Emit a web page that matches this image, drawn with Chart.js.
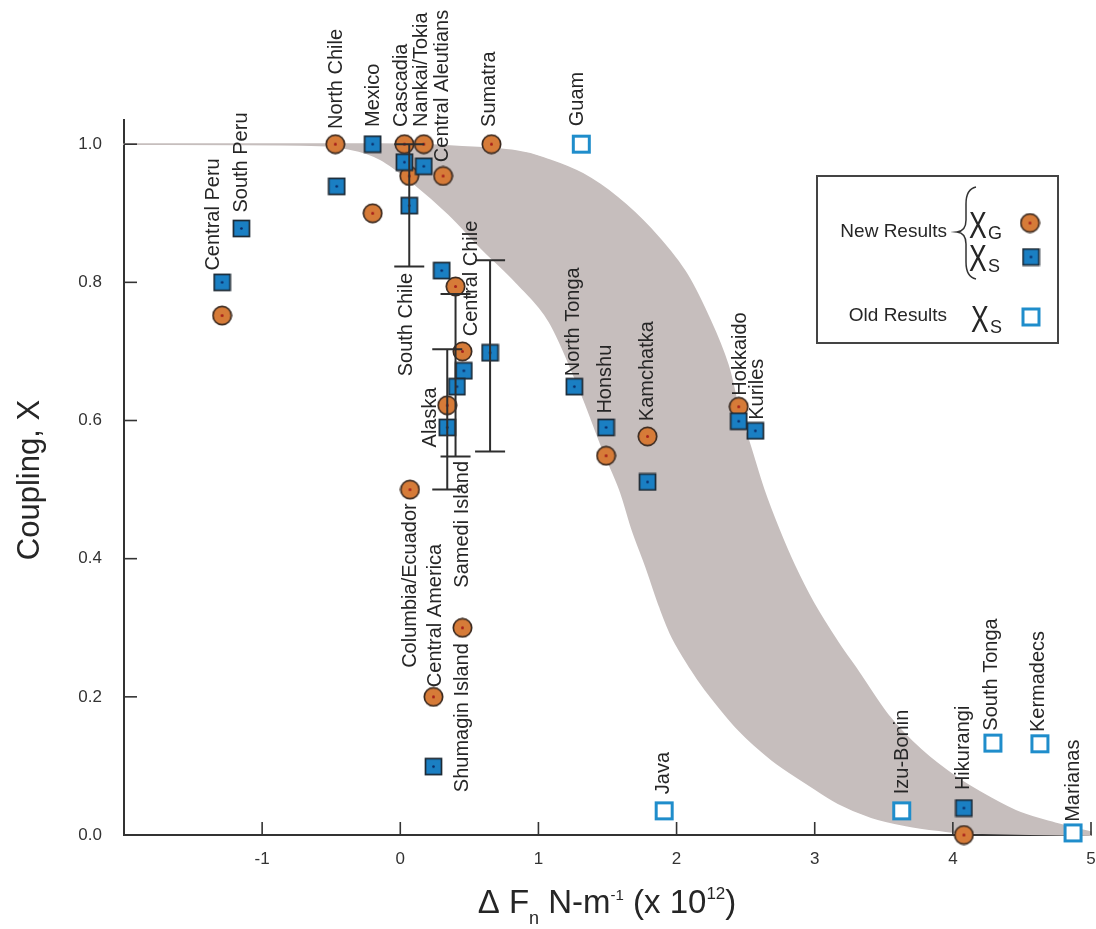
<!DOCTYPE html>
<html><head><meta charset="utf-8">
<script src="https://cdn.jsdelivr.net/npm/chart.js@4.4.1/dist/chart.umd.min.js"></script>
<style>html,body{margin:0;padding:0;background:#fff;}#wrap{width:1096px;height:929px;}</style>
</head><body><div id="wrap"><canvas id="c" width="1096" height="929"></canvas></div>
<script>
// ---------- data ----------
// New results, coupling from geodesy (X_G): orange circles
const gNames = ["Central Peru","North Chile","Mexico","Cascadia","Nankai/Tokia","South Chile","Central Aleutians","Sumatra","Central Chile","Samedi Island","Alaska","Columbia/Ecuador","Central America","Shumagin Island","Honshu","Kamchatka","Hokkaido","Hikurangi"];
const gX = [-1.29,-0.47,-0.20,0.03,0.17,0.065,0.31,0.66,0.40,0.45,0.34,0.07,0.24,0.45,1.49,1.79,2.45,4.08];
const gY = [0.752,1.0,0.90,1.0,1.0,0.954,0.954,1.0,0.794,0.70,0.622,0.50,0.20,0.30,0.549,0.577,0.62,0.0];
// New results, coupling from seismicity (X_S): filled blue squares
const sNames = ["South Peru","Central Peru","North Chile","Mexico","Cascadia","Nankai/Tokia","South Chile","Central Aleutians","Samedi Island","Central Chile b","Alaska","Central Chile","Shumagin Island","North Tonga","Honshu","Kamchatka","Hokkaido","Kuriles","Hikurangi"];
const sX = [-1.15,-1.29,-0.46,-0.20,0.03,0.17,0.065,0.30,0.46,0.41,0.34,0.65,0.24,1.26,1.49,1.79,2.45,2.57,4.08];
const sY = [0.878,0.80,0.939,1.0,0.974,0.968,0.911,0.817,0.672,0.649,0.59,0.698,0.099,0.649,0.59,0.511,0.599,0.585,0.039];
// Old results X_S: open squares
const oNames = ["Guam","Java","Izu-Bonin","South Tonga","Kermadecs","Marianas"];
const oX = [1.31,1.91,3.63,4.29,4.63,4.87];
const oY = [1.0,0.035,0.035,0.133,0.132,0.003];
// Error bars
const errX = [0.065,0.34,0.40,0.65];
const errLow = [0.823,0.50,0.548,0.555];
const errHigh = [1.0,0.703,0.783,0.832];
// Shaded band boundaries
const bandUpX = [-2.0,-0.14,0.36,0.84,1.08,1.32,1.57,1.81,2.06,2.24,2.37,2.45,2.54,2.63,2.74,2.85,2.99,3.17,3.32,3.54,3.77,4.02,4.26,4.49,4.74,5.0];
const bandUpY = [1.0,1.0,0.997,0.990,0.977,0.957,0.923,0.878,0.816,0.746,0.681,0.616,0.558,0.50,0.442,0.391,0.336,0.278,0.235,0.171,0.123,0.084,0.055,0.032,0.017,0.004];
const bandLoX = [-2.0,-0.72,-0.36,-0.14,0.10,0.35,0.59,0.84,1.08,1.30,1.46,1.59,1.68,1.78,1.88,1.97,2.09,2.21,2.45,2.69,2.94,3.17,3.41,3.66,3.90,4.13,5.0];
const bandLoY = [1.0,0.999,0.993,0.978,0.943,0.899,0.849,0.80,0.743,0.645,0.562,0.50,0.442,0.388,0.330,0.286,0.245,0.210,0.152,0.109,0.075,0.046,0.026,0.014,0.007,0.003,0.0];
// Point labels (text start, in data units)
const labText = ["Central Peru","South Peru","North Chile","Mexico","Cascadia","Nankai/Tokia","Central Aleutians","Sumatra","Guam","South Chile","Central Chile","Alaska","Samedi Island","Columbia/Ecuador","Central America","Shumagin Island","North Tonga","Honshu","Kamchatka","Hokkaido","Kuriles","Java","Izu-Bonin","Hikurangi","South Tonga","Kermadecs","Marianas"];
const labX = [-1.349,-1.147,-0.462,-0.195,0.007,0.152,0.303,0.649,1.284,0.043,0.519,0.216,0.447,0.072,0.253,0.447,1.255,1.486,1.789,2.46,2.583,1.905,3.636,4.076,4.278,4.618,4.87];
const labY = [0.817,0.901,1.022,1.025,1.025,1.025,0.974,1.025,1.026,0.664,0.722,0.561,0.358,0.242,0.214,0.062,0.664,0.61,0.599,0.636,0.601,0.059,0.059,0.065,0.151,0.149,0.019];
// Axis ticks
const xTickVals = [-1,0,1,2,3,4,5];
const yTickVals = [0.2,0.4,0.6,0.8,1.0];

// ---------- marker images ----------
function mk(w,h,fn){const c=document.createElement('canvas');c.width=w;c.height=h;fn(c.getContext('2d'));return c;}
const circleImg = mk(21,21,ctx=>{ctx.beginPath();ctx.arc(10.5,10.5,9.2,0,Math.PI*2);ctx.fillStyle='#d67b38';ctx.fill();ctx.lineWidth=1.7;ctx.strokeStyle='#3b2a20';ctx.stroke();ctx.beginPath();ctx.arc(10.5,10.5,1.5,0,Math.PI*2);ctx.fillStyle='#a8201c';ctx.fill();});
const squareImg = mk(19,19,ctx=>{ctx.fillStyle='#1a7fc3';ctx.fillRect(1.5,1.5,16,16);ctx.lineWidth=1.7;ctx.strokeStyle='#1d2a35';ctx.strokeRect(1.5,1.5,16,16);ctx.beginPath();ctx.arc(9.5,9.5,1.3,0,Math.PI*2);ctx.fillStyle='#0b2a66';ctx.fill();});
const openImg = mk(21,21,ctx=>{ctx.fillStyle='#fff';ctx.fillRect(2,2,17,17);ctx.lineWidth=3;ctx.strokeStyle='#1f8dcb';ctx.strokeRect(2.5,2.5,16,16);});

const pts=(xs,ys)=>xs.map((x,i)=>({x:x,y:ys[i]}));

const FONT='"Liberation Sans", Arial, Helvetica, sans-serif';
const TXT='#262626';

// smooth path through pixel points (Catmull-Rom -> Bezier)
function smoothPath(ctx,p,start){
  if(start)ctx.moveTo(p[0][0],p[0][1]);else ctx.lineTo(p[0][0],p[0][1]);
  for(let i=0;i<p.length-1;i++){
    const p0=p[i-1]||p[i],p1=p[i],p2=p[i+1],p3=p[i+2]||p[i+1];
    const c1x=p1[0]+(p2[0]-p0[0])/6,c1y=p1[1]+(p2[1]-p0[1])/6;
    const c2x=p2[0]-(p3[0]-p1[0])/6,c2y=p2[1]-(p3[1]-p1[1])/6;
    ctx.bezierCurveTo(c1x,c1y,c2x,c2y,p2[0],p2[1]);
  }
}

const bandPlugin = {
  id:'band',
  beforeDatasetsDraw(chart){
    const {ctx,scales:{x,y}}=chart;
    const up=bandUpX.map((v,i)=>[x.getPixelForValue(v),y.getPixelForValue(bandUpY[i])]);
    const lo=bandLoX.map((v,i)=>[x.getPixelForValue(v),y.getPixelForValue(bandLoY[i])]).reverse();
    ctx.save();
    ctx.beginPath();
    smoothPath(ctx,up,true);
    smoothPath(ctx,lo,false);
    ctx.closePath();
    ctx.fillStyle='#c6bebd';ctx.fill();
    ctx.lineWidth=1.8;ctx.strokeStyle='#c6bebd';ctx.lineJoin='round';ctx.stroke();
    ctx.restore();
  }
};

const decoPlugin = {
  id:'deco',
  afterDatasetsDraw(chart){
    const {ctx,chartArea:a,scales:{x,y}}=chart;
    ctx.save();
    // inward ticks
    ctx.strokeStyle='#333';ctx.lineWidth=1.6;
    xTickVals.forEach(v=>{const px=x.getPixelForValue(v);ctx.beginPath();ctx.moveTo(px,a.bottom);ctx.lineTo(px,a.bottom-13);ctx.stroke();});
    yTickVals.forEach(v=>{const py=y.getPixelForValue(v);ctx.beginPath();ctx.moveTo(a.left,py);ctx.lineTo(a.left+13,py);ctx.stroke();});
    // error bars
    ctx.strokeStyle='#2e2e2e';ctx.lineWidth=2;
    errX.forEach((v,i)=>{
      const px=x.getPixelForValue(v),p1=y.getPixelForValue(errLow[i]),p2=y.getPixelForValue(errHigh[i]);
      ctx.beginPath();ctx.moveTo(px,p1);ctx.lineTo(px,p2);
      ctx.moveTo(px-15,p1);ctx.lineTo(px+15,p1);
      ctx.moveTo(px-15,p2);ctx.lineTo(px+15,p2);ctx.stroke();
    });
    // point labels
    ctx.fillStyle=TXT;ctx.font='20px '+FONT;ctx.textAlign='left';ctx.textBaseline='middle';
    labText.forEach((t,i)=>{
      ctx.save();ctx.translate(x.getPixelForValue(labX[i]),y.getPixelForValue(labY[i]));ctx.rotate(-Math.PI/2);ctx.fillText(t,0,0);ctx.restore();
    });
    // y title
    ctx.save();ctx.font='31px '+FONT;ctx.textAlign='center';ctx.textBaseline='middle';
    ctx.translate(30,480);ctx.rotate(-Math.PI/2);ctx.fillText('Coupling, X',0,0);ctx.restore();
    // x title with sub/superscripts
    const segs=[['Δ F',33,0],['n',18,11],[' N-m',33,0],['-1',15,-13],[' (x 10',33,0],['12',17,-14],[')',33,0]];
    let tot=0;segs.forEach(s=>{ctx.font=s[1]+'px '+FONT;tot+=ctx.measureText(s[0]).width;});
    let cx=607-tot/2;const base=913;
    ctx.textAlign='left';ctx.textBaseline='alphabetic';
    segs.forEach(s=>{ctx.font=s[1]+'px '+FONT;ctx.fillText(s[0],cx,base+s[2]);cx+=ctx.measureText(s[0]).width;});
    // legend box
    ctx.strokeStyle='#444';ctx.lineWidth=2;ctx.strokeRect(817,176,241,167);
    ctx.font='19px '+FONT;ctx.textAlign='right';ctx.textBaseline='middle';
    ctx.fillText('New Results',947,232);
    ctx.fillText('Old Results',947,316);
    // brace
    ctx.strokeStyle='#333';ctx.lineWidth=1.5;ctx.beginPath();
    ctx.moveTo(976,187);ctx.quadraticCurveTo(966,189,966,204);ctx.lineTo(966,220);
    ctx.quadraticCurveTo(966,231,957,232);ctx.quadraticCurveTo(966,233,966,244);
    ctx.lineTo(966,262);ctx.quadraticCurveTo(966,277,976,279);ctx.stroke();
    // chi symbols
    function chi(xp,yb,sub){ctx.save();ctx.textAlign='left';ctx.textBaseline='alphabetic';ctx.translate(xp,yb);ctx.scale(0.95,1.35);ctx.font='28px '+FONT;ctx.fillText('X',0,0);ctx.restore();
      ctx.font='18px '+FONT;ctx.textAlign='left';ctx.textBaseline='alphabetic';ctx.fillText(sub,xp+19,yb+1);}
    chi(969,238,'G');chi(969,271,'S');chi(971,332,'S');
    ctx.drawImage(circleImg,1030-10.5,223-10.5);
    ctx.drawImage(squareImg,1031-9.5,257-9.5);
    ctx.drawImage(openImg,1031-10.5,317-10.5);
    ctx.restore();
  }
};

new Chart(document.getElementById('c'),{
  type:'scatter',
  data:{datasets:[
    {label:'Old Results X_S',data:pts(oX,oY),pointStyle:openImg,clip:false},
    {label:'New Results X_S',data:pts(sX,sY),pointStyle:squareImg,clip:false},
    {label:'New Results X_G',data:pts(gX,gY),pointStyle:circleImg,clip:false}
  ]},
  options:{
    responsive:false,animation:false,devicePixelRatio:1,
    layout:{padding:{top:120,right:3,left:0,bottom:0}},
    plugins:{legend:{display:false},tooltip:{enabled:false}},
    scales:{
      x:{type:'linear',min:-2,max:5,
        ticks:{stepSize:1,includeBounds:false,padding:14,color:'#333',font:{size:17,family:FONT},maxRotation:0,
          callback:v=>v===-2?'':String(v)},
        grid:{display:false,drawTicks:false},border:{display:true,color:'#333',width:2},
        afterFit:s=>{s.height=94;s.paddingLeft=0;s.paddingRight=0;}},
      y:{type:'linear',min:0,max:1.035,
        ticks:{stepSize:0.2,includeBounds:false,padding:22,color:'#333',font:{size:17,family:FONT},
          callback:v=>Number(v).toFixed(1)},
        grid:{display:false,drawTicks:false},border:{display:true,color:'#333',width:2},
        afterFit:s=>{s.width=124;s.paddingTop=0;s.paddingBottom=0;}}
    }
  },
  plugins:[bandPlugin,decoPlugin]
});
</script></body></html>
